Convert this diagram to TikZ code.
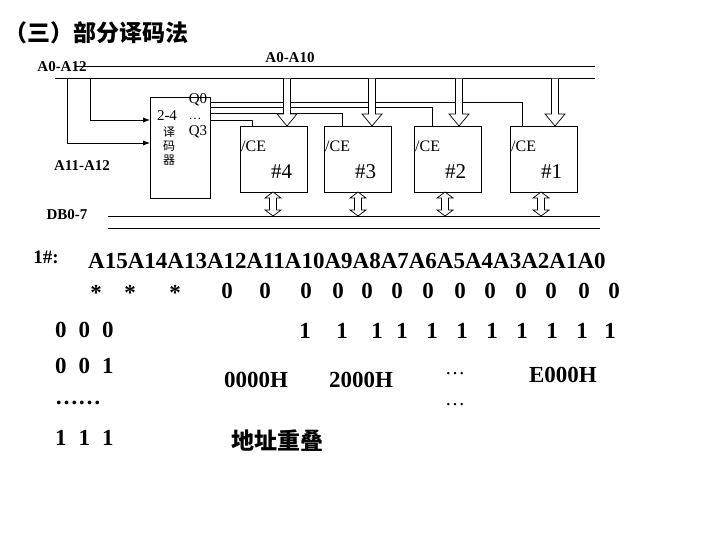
\documentclass[tikz,border=0pt]{standalone}
\usepackage{fontspec}
\setmainfont{Liberation Serif}
\newfontfamily\cjk{Noto Sans CJK SC}
\usetikzlibrary{arrows.meta}
\begin{document}
\begin{tikzpicture}[x=1pt,y=-1pt,
  chip/.style={draw,minimum width=67pt,minimum height=66pt,anchor=north west,inner sep=0},
  lbl/.style={font=\bfseries\fontsize{15}{15}\selectfont,inner sep=0},
  big/.style={font=\bfseries\fontsize{23}{23}\selectfont,inner sep=0},
  wire/.style={line width=0.8pt},
  hollow/.style={draw,fill=white,line width=0.7pt,line join=miter}]
\useasboundingbox (0,0) rectangle (720,540);
\node[anchor=west,inner sep=0,font=\cjk\bfseries\fontsize{23}{23}\selectfont] (title) at (4,33) {（三）部分译码法};
\node[lbl] (la010) at (290,58) {A0-A10};
\node[lbl] (la012) at (62,67) {A0-A12};
\node[lbl] (la1112) at (82,166) {A11-A12};
\node[lbl] (ldb) at (67,215) {DB0-7};
% buses
\coordinate (b1s) at (75,66); \coordinate (b1e) at (595,66);
\coordinate (b2s) at (55,78); \coordinate (b2e) at (595,78);
\draw[wire] (b1s)--(b1e); \draw[wire] (b2s)--(b2e);
\coordinate (d1s) at (108,216); \coordinate (d1e) at (600,216);
\coordinate (d2s) at (108,228); \coordinate (d2e) at (600,228);
\draw[wire] (d1s)--(d1e); \draw[wire] (d2s)--(d2e);
% decoder
\node[draw,minimum width=60pt,minimum height=101pt,anchor=north west,inner sep=0] (dec) at (150,97) {};
\node[inner sep=0,font=\fontsize{15}{15}\selectfont] (q0) at (198,100) {Q0};
\node[inner sep=0,font=\fontsize{15}{15}\selectfont] (q3) at (198,132) {Q3};
\node[inner sep=0,font=\fontsize{15}{15}\selectfont] (d24) at (167,116) {2-4};
\node[inner sep=0,font=\fontsize{13}{13}\selectfont] (ddot) at (195,119) {…};
\node[inner sep=0,font=\cjk\fontsize{12}{12}\selectfont] (dy1) at (169,132) {译};
\node[inner sep=0,font=\cjk\fontsize{12}{12}\selectfont] (dy2) at (169,146) {码};
\node[inner sep=0,font=\cjk\fontsize{12}{12}\selectfont] (dy3) at (169,160) {器};
% chips
\node[chip] (c4) at (240,126) {}; \node[chip] (c3) at (324,126) {};
\node[chip] (c2) at (414,126) {}; \node[chip] (c1) at (510,126) {};
% decoder outputs
\draw[wire] (210,120) -| (252,126);
\draw[wire] (210,113) -| (342,126);
\draw[wire] (210,107) -| (432,126);
\draw[wire] (210,102) -| (522,126);
\foreach \c/\n in {c4/4,c3/3,c2/2,c1/1}{
  \node[inner sep=0,font=\fontsize{16}{16}\selectfont,anchor=west] at ([xshift=1pt,yshift=-20pt]\c.north west) {/CE};
  \node[inner sep=0,font=\fontsize{21}{21}\selectfont] at ([xshift=8pt,yshift=-12pt]\c.center) {\#\n};
}
% address arrows and data arrows
\foreach \x in {287,372,459,555}{
  \draw[hollow] (\x-3.5,78.6) -- (\x-3.5,114) -- (\x-10,114) -- (\x,126) -- (\x+10,114) -- (\x+3.5,114) -- (\x+3.5,78.6);
  \draw[hollow] (\x-17.5,198) -- (\x-17.5,210) -- (\x-22,210) -- (\x-14,216) -- (\x-6,210) -- (\x-10.5,210) -- (\x-10.5,198) -- (\x-6,198) -- (\x-14,192) -- (\x-22,198) -- cycle;
}
% inputs
\draw[wire,-{Latex[length=7pt]}] (67,78) |- (150,143);
\draw[wire,-{Latex[length=7pt]}] (90,78) |- (150,120);
% table
\node[inner sep=0,font=\bfseries\fontsize{19}{19}\selectfont] (one) at (46,257) {1\#:};
\node[big,anchor=west] (addr) at (88,261) {A15A14A13A12A11A10A9A8A7A6A5A4A3A2A1A0};
\foreach \x [count=\i] in {96,130,175}{\node[big] (s\i) at (\x,293) {*};}
\foreach \x [count=\i] in {227,265,306,338,367,397,428,460,490,521,551,584,614}{\node[big] (z\i) at (\x,291) {0};}
\foreach \x [count=\i] in {305,342,377,402,432,462,492,522,552,582,610}{\node[big] (o\i) at (\x,331) {1};}
\node[big,anchor=west] (r2a) at (55,330) {0\hspace{12pt}0\hspace{12pt}0};
\node[big,anchor=west] (r3a) at (55,366) {0\hspace{12pt}0\hspace{12pt}1};
\node[big] (h0) at (256,380) {0000H};
\node[big] (h2) at (361,380) {2000H};
\node[big,font=\fontsize{20}{20}\selectfont] (e1) at (455,374) {…};
\node[big,font=\fontsize{20}{20}\selectfont] (e2) at (455,405) {…};
\node[big] (he) at (563,375) {E000H};
\node[big,anchor=west] (r4) at (55,403) {……};
\node[big,anchor=west] (r5) at (55,438) {1\hspace{12pt}1\hspace{12pt}1};
\node[inner sep=0,font=\cjk\bfseries\fontsize{23}{23}\selectfont] (ov) at (277,441) {地址重叠};
\end{tikzpicture}
\end{document}
